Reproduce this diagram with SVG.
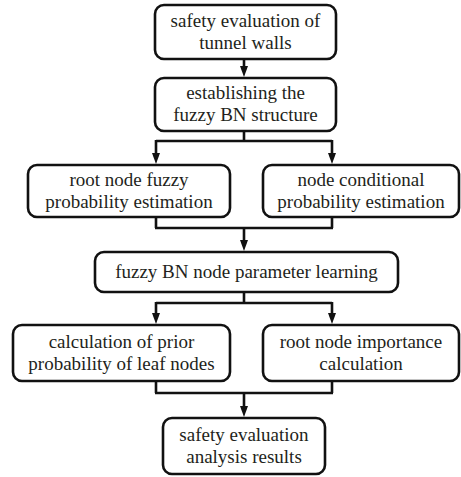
<svg xmlns="http://www.w3.org/2000/svg" width="461" height="477" viewBox="0 0 461 477">
<style>
.box{fill:#fff;stroke:#111;stroke-width:2.6}
.t{font-family:"Liberation Serif","Times New Roman",serif;font-size:19px;fill:#231f20;text-anchor:middle}
.c{fill:none;stroke:#111;stroke-width:2.6}
</style>
<defs>
<marker id="ah" markerWidth="8" markerHeight="12" refX="4" refY="11" orient="auto-start-reverse" markerUnits="userSpaceOnUse" viewBox="0 0 8 12">
<path d="M0,0 L8,0 L4,12 Z" fill="#111" transform="rotate(0)"/>
</marker>
</defs>
<rect width="461" height="477" fill="#fff"/>
<g id="connectors">
<path class="c" d="M244,59 V66"/><path d="M240,66 H248 L244,77 Z" fill="#111"/>
<path class="c" d="M244,131 V141 M156,141 H332 M156,140 V153 M332,140 V153"/>
<path d="M152,153 H160 L156,164 Z" fill="#111"/><path d="M328,153 H336 L332,164 Z" fill="#111"/>
<path class="c" d="M156,217 V228 M332,217 V228 M155,228 H333 M244,228 V240"/>
<path d="M240,240 H248 L244,251 Z" fill="#111"/>
<path class="c" d="M244,292 V303 M156,303 H332 M156,302 V313 M332,302 V313"/>
<path d="M152,313 H160 L156,324 Z" fill="#111"/><path d="M328,313 H336 L332,324 Z" fill="#111"/>
<path class="c" d="M156,381 V393 M332,381 V393 M155,393 H333 M244,393 V406"/>
<path d="M240,406 H248 L244,417 Z" fill="#111"/>
</g>
<g id="n1"><rect class="box" x="155" y="5" width="181" height="54" rx="9"/>
<text class="t" x="245.5" y="27">safety evaluation of</text><text class="t" x="245.5" y="49">tunnel walls</text></g>
<g id="n2"><rect class="box" x="155" y="78" width="181" height="53" rx="9"/>
<text class="t" x="245.5" y="99">establishing the</text><text class="t" x="245.5" y="121">fuzzy BN structure</text></g>
<g id="n3"><rect class="box" x="28" y="165" width="202" height="52" rx="9"/>
<text class="t" x="129" y="186">root node fuzzy</text><text class="t" x="129" y="208">probability estimation</text></g>
<g id="n4"><rect class="box" x="263" y="165" width="196" height="52" rx="9"/>
<text class="t" x="361" y="186">node conditional</text><text class="t" x="361" y="208">probability estimation</text></g>
<g id="n5"><rect class="box" x="95" y="252" width="303" height="40" rx="9"/>
<text class="t" x="246.5" y="278">fuzzy BN node parameter learning</text></g>
<g id="n6"><rect class="box" x="13" y="325" width="217" height="56" rx="9"/>
<text class="t" x="121.5" y="348">calculation of prior</text><text class="t" x="121.5" y="370">probability of leaf nodes</text></g>
<g id="n7"><rect class="box" x="263" y="325" width="196" height="56" rx="9"/>
<text class="t" x="361" y="348">root node importance</text><text class="t" x="361" y="370">calculation</text></g>
<g id="n8"><rect class="box" x="163" y="418" width="162" height="56" rx="9"/>
<text class="t" x="244" y="441">safety evaluation</text><text class="t" x="244" y="463">analysis results</text></g>
</svg>
